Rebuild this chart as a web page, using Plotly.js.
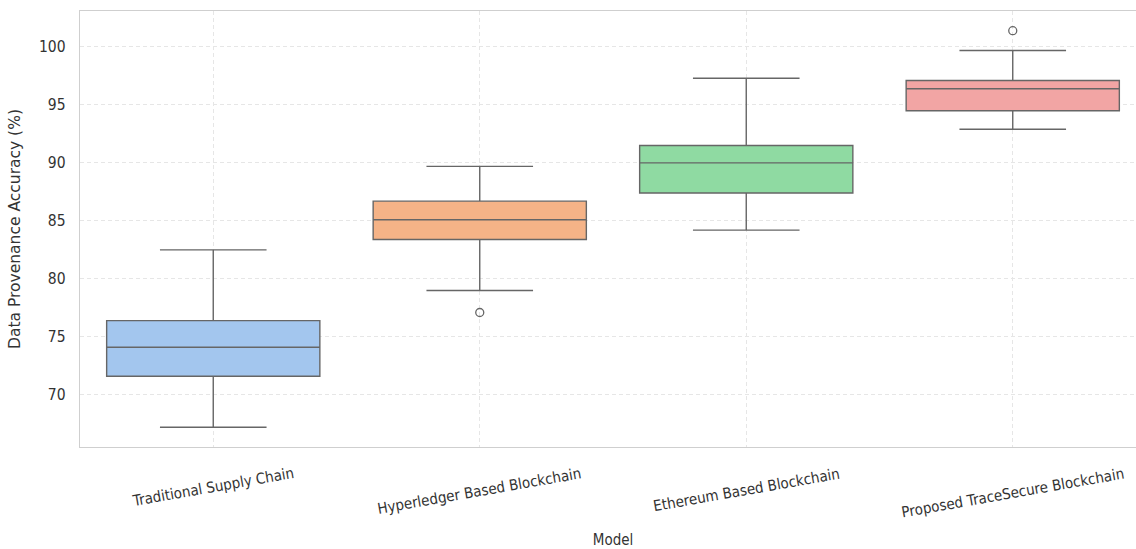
<!DOCTYPE html>
<html>
<head>
<meta charset="utf-8">
<script src="https://cdn.plot.ly/plotly-3.0.1.min.js"></script>
<style>
  html, body { margin: 0; padding: 0; overflow: hidden; background: #ffffff; }
  #chart { width: 1150px; height: 549px; }
</style>
</head>
<body>
<div id="chart"></div>
<script>
// Models compared
const models = [
  "Traditional Supply Chain",
  "Hyperledger Based Blockchain",
  "Ethereum Based Blockchain",
  "Proposed TraceSecure Blockchain"
];

// Box statistics per model (accuracy, %)
const lowerWhisker = [67.2, 79.0, 84.2, 92.9];
const q1Values     = [71.6, 83.4, 87.4, 94.5];
const medians      = [74.1, 85.1, 90.0, 96.4];
const q3Values     = [76.4, 86.7, 91.5, 97.1];
const upperWhisker = [82.5, 89.7, 97.3, 99.7];

// Points beyond the whiskers
const outlierModels = ["Hyperledger Based Blockchain", "Proposed TraceSecure Blockchain"];
const outlierValues = [77.1, 101.4];

// Y axis ticks
const yTicks = [70, 75, 80, 85, 90, 95, 100];

const fills = ["#a3c6ee", "#f5b387", "#8fdaa2", "#f2a5a4"];
const edge = "#666666";

const condensed = "'DejaVu Sans Condensed', 'Liberation Sans Narrow', 'DejaVu Sans', sans-serif";

const traces = models.map((m, i) => ({
  type: "box",
  x: [m],
  q1: [q1Values[i]],
  median: [medians[i]],
  q3: [q3Values[i]],
  lowerfence: [lowerWhisker[i]],
  upperfence: [upperWhisker[i]],
  width: 0.8,
  whiskerwidth: 0.5,
  fillcolor: fills[i],
  line: { color: edge, width: 1.4 },
  boxpoints: false,
  hoverinfo: "skip",
  showlegend: false
}));

traces.push({
  type: "scatter",
  mode: "markers",
  x: outlierModels,
  y: outlierValues,
  marker: { symbol: "circle-open", size: 8, color: edge, line: { width: 1.3, color: edge } },
  hoverinfo: "skip",
  showlegend: false
});

const labelNotes = models.map(m => ({
  text: m,
  x: m,
  xref: "x",
  y: 0,
  yref: "paper",
  xanchor: "center",
  yanchor: "top",
  yshift: -15,
  textangle: -10,
  showarrow: false,
  font: { family: condensed, size: 15, color: "#333333" }
}));

const gridColor = "#e6e6e6";

const layout = {
  width: 1150,
  height: 549,
  margin: { l: 80, r: 4, t: 11, b: 102 },
  paper_bgcolor: "#ffffff",
  plot_bgcolor: "#ffffff",
  xaxis: {
    type: "category",
    categoryarray: models,
    range: [-0.5, 3.5],
    showticklabels: false,
    ticks: "",
    showgrid: true,
    gridcolor: gridColor,
    griddash: "4px,3px",
    gridwidth: 1,
    showline: true,
    mirror: true,
    linecolor: "#cfcfcf",
    linewidth: 1.3,
    zeroline: false,
    title: {
      text: "Model",
      standoff: 88,
      font: { family: condensed, size: 15, color: "#333333" }
    }
  },
  yaxis: {
    range: [65.5, 103.1],
    tickvals: yTicks,
    ticks: "",
    ticklabelstandoff: 10,
    tickfont: { family: condensed, size: 15.5, color: "#333333" },
    showgrid: true,
    gridcolor: gridColor,
    griddash: "4px,3px",
    gridwidth: 1,
    showline: true,
    mirror: true,
    linecolor: "#cfcfcf",
    linewidth: 1.3,
    zeroline: false,
    title: {
      text: "Data Provenance Accuracy (%)",
      standoff: 14,
      font: { family: "'DejaVu Sans', sans-serif", size: 15.5, color: "#333333" }
    }
  },
  annotations: labelNotes
};

Plotly.newPlot("chart", traces, layout, { staticPlot: true, displayModeBar: false });
</script>
</body>
</html>
